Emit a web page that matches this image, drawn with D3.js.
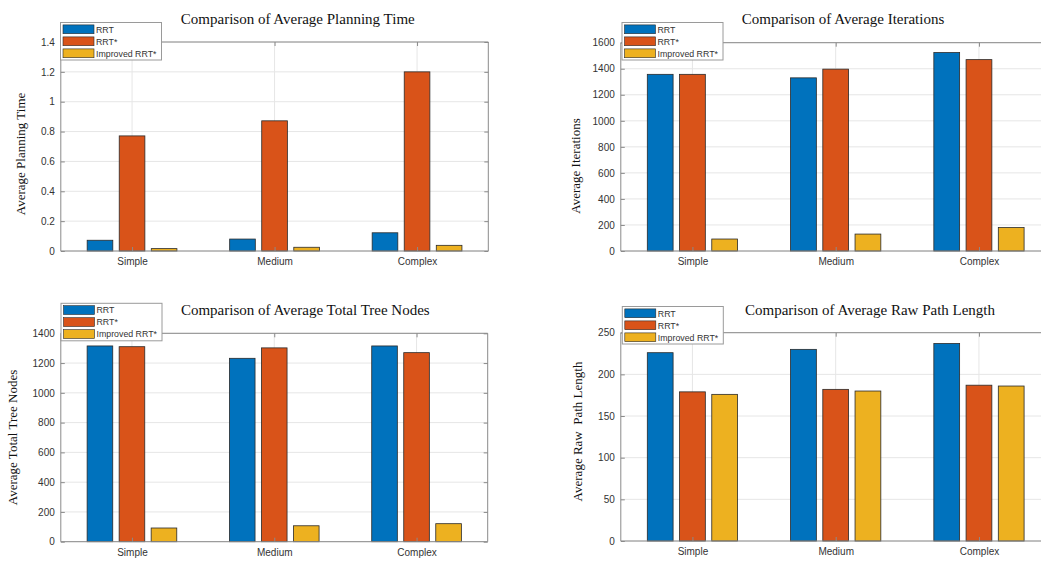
<!DOCTYPE html>
<html>
<head>
<meta charset="utf-8">
<script src="https://cdn.jsdelivr.net/npm/d3@7"></script>
<style>
  html, body { margin: 0; padding: 0; background: #fff; }
  svg { display: block; }
</style>
</head>
<body>
<svg id="fig" width="1041" height="561"></svg>
<script>
// Scenario categories and algorithm series shared by all four panels
const categories = ["Simple", "Medium", "Complex"];
const seriesNames = ["RRT", "RRT*", "Improved RRT*"];
const seriesColors = ["#0072BD", "#D95319", "#EDB120"];

// Per-category values, ordered [RRT, RRT*, Improved RRT*]
const planningTime = [[0.072, 0.771, 0.016], [0.080, 0.872, 0.025], [0.122, 1.200, 0.038]];
const iterations   = [[1357, 1357, 92], [1330, 1397, 130], [1524, 1470, 180]];
const treeNodes    = [[1315, 1310, 92], [1232, 1302, 107], [1315, 1270, 121]];
const pathLength   = [[226, 179, 176], [230, 182, 180], [237, 187, 186]];

// Y tick values for each panel
const planningTicks  = [0, 0.2, 0.4, 0.6, 0.8, 1, 1.2, 1.4];
const iterationTicks = [0, 200, 400, 600, 800, 1000, 1200, 1400, 1600];
const nodeTicks      = [0, 200, 400, 600, 800, 1000, 1200, 1400];
const lengthTicks    = [0, 50, 100, 150, 200, 250];

const panels = [
  { title: "Comparison of Average Planning Time", ylabel: "Average Planning Time",
    data: planningTime, ticks: planningTicks,
    box: { l: 60.8, r: 488.3, t: 42, b: 251 },
    titlePos: [297.8, 23.5], ylabelPos: [25, 154], legendPos: [60.5, 22.5] },
  { title: "Comparison of Average Iterations", ylabel: "Average Iterations",
    data: iterations, ticks: iterationTicks,
    box: { l: 620.8, r: 1050.6, t: 42.7, b: 251 },
    titlePos: [843, 23.5], ylabelPos: [580, 166], legendPos: [622, 22.5] },
  { title: "Comparison of Average Total Tree Nodes", ylabel: "Average Total Tree Nodes",
    data: treeNodes, ticks: nodeTicks,
    box: { l: 60.8, r: 487.7, t: 333.3, b: 541.7 },
    titlePos: [305.3, 315], ylabelPos: [17, 437.5], legendPos: [61, 303.3] },
  { title: "Comparison of Average Raw Path Length", ylabel: "Average Raw  Path Length",
    data: pathLength, ticks: lengthTicks,
    box: { l: 620.8, r: 1050.6, t: 332.7, b: 541 },
    titlePos: [870, 314.5], ylabelPos: [582, 431.5], legendPos: [622.3, 306.5] }
];

const svg = d3.select("#fig");
svg.append("rect").attr("width", 1041).attr("height", 561).attr("fill", "#fff");

const sans = "'Liberation Sans', Arial, Helvetica, sans-serif";
const serif = "'Liberation Serif', 'Times New Roman', serif";
const axisColor = "#8a8a8a";
const textColor = "#333";

function drawPanel(p) {
  const g = svg.append("g");
  const { l, r, t, b } = p.box;

  // Category axis: categories sit at 1,2,3 on a [0.5, 3.5] range
  const x = d3.scaleLinear().domain([0.5, 3.5]).range([l, r]);
  const y = d3.scaleLinear().domain([0, d3.max(p.ticks)]).range([b, t]);
  const step = x(2) - x(1);
  const inner = d3.scaleBand().domain(seriesNames)
    .range([-step * 0.315, step * 0.315]).paddingInner(0.2).paddingOuter(0);

  // Grid
  const grid = g.append("g").attr("stroke", "#e6e6e6").attr("stroke-width", 1);
  grid.selectAll(".gy").data(p.ticks).join("line")
    .attr("x1", l).attr("x2", r).attr("y1", d => y(d)).attr("y2", d => y(d));
  grid.selectAll(".gx").data(categories).join("line")
    .attr("x1", (d, i) => x(i + 1)).attr("x2", (d, i) => x(i + 1))
    .attr("y1", t).attr("y2", b);

  // Bars
  const groups = g.selectAll(".grp").data(p.data).join("g")
    .attr("transform", (d, i) => `translate(${x(i + 1)},0)`);
  groups.selectAll("rect").data(d => d).join("rect")
    .attr("x", (d, j) => inner(seriesNames[j]))
    .attr("width", inner.bandwidth())
    .attr("y", d => y(d))
    .attr("height", d => y(0) - y(d))
    .attr("fill", (d, j) => seriesColors[j])
    .attr("stroke", "#2a2a2a").attr("stroke-width", 0.8);

  // Axes with inward ticks (box style)
  const xAxis = d3.axisBottom(x).tickValues([1, 2, 3])
    .tickFormat(d => categories[d - 1]).tickSize(-4).tickPadding(7);
  const yAxis = d3.axisLeft(y).tickValues(p.ticks)
    .tickFormat(d3.format("~g")).tickSize(-4).tickPadding(6);
  const styleAxis = sel => {
    sel.selectAll("path,line").attr("stroke", axisColor);
    sel.selectAll("text").attr("fill", textColor)
      .style("font-family", sans).style("font-size", "10px");
  };
  g.append("g").attr("transform", `translate(0,${b})`).call(xAxis)
    .call(s => s.select(".domain").attr("d", `M${l},0H${r}`)).call(styleAxis);
  g.append("g").attr("transform", `translate(${l},0)`).call(yAxis)
    .call(s => s.select(".domain").attr("d", `M0,${b}V${t}`)).call(styleAxis);
  g.append("g").attr("transform", `translate(0,${t})`)
    .call(d3.axisTop(x).tickValues([1, 2, 3]).tickFormat("").tickSize(-4))
    .call(s => s.select(".domain").attr("d", `M${l},0H${r}`)).call(styleAxis);
  g.append("g").attr("transform", `translate(${r},0)`)
    .call(d3.axisRight(y).tickValues(p.ticks).tickFormat("").tickSize(-4))
    .call(s => s.select(".domain").attr("d", `M0,${b}V${t}`)).call(styleAxis);

  // Title
  g.append("text").attr("x", p.titlePos[0]).attr("y", p.titlePos[1])
    .attr("text-anchor", "middle").style("font-family", serif)
    .style("font-size", "15px").attr("fill", "#111").text(p.title);

  // Y label
  g.append("text")
    .attr("transform", `translate(${p.ylabelPos[0]},${p.ylabelPos[1]}) rotate(-90)`)
    .attr("text-anchor", "middle").style("font-family", serif)
    .style("font-size", "13px").attr("fill", "#111")
    .style("white-space", "pre").text(p.ylabel);

  // Legend
  const [lx, ly] = p.legendPos;
  const lg = g.append("g").attr("transform", `translate(${lx},${ly})`);
  lg.append("rect").attr("width", 101).attr("height", 37.5)
    .attr("fill", "#fff").attr("stroke", "#9a9a9a").attr("stroke-width", 1);
  const items = lg.selectAll(".item").data(seriesNames).join("g")
    .attr("transform", (d, i) => `translate(0,${6.8 + i * 12})`);
  items.append("rect").attr("x", 2.5).attr("y", -4.4).attr("width", 31).attr("height", 8.8)
    .attr("fill", (d, i) => seriesColors[i]).attr("stroke", "#2a2a2a").attr("stroke-width", 0.6);
  items.append("text").attr("x", 35.5).attr("y", 3.3)
    .style("font-family", sans).style("font-size", "8.8px").attr("fill", textColor)
    .text(d => d);
}

panels.forEach(drawPanel);
</script>
</body>
</html>
